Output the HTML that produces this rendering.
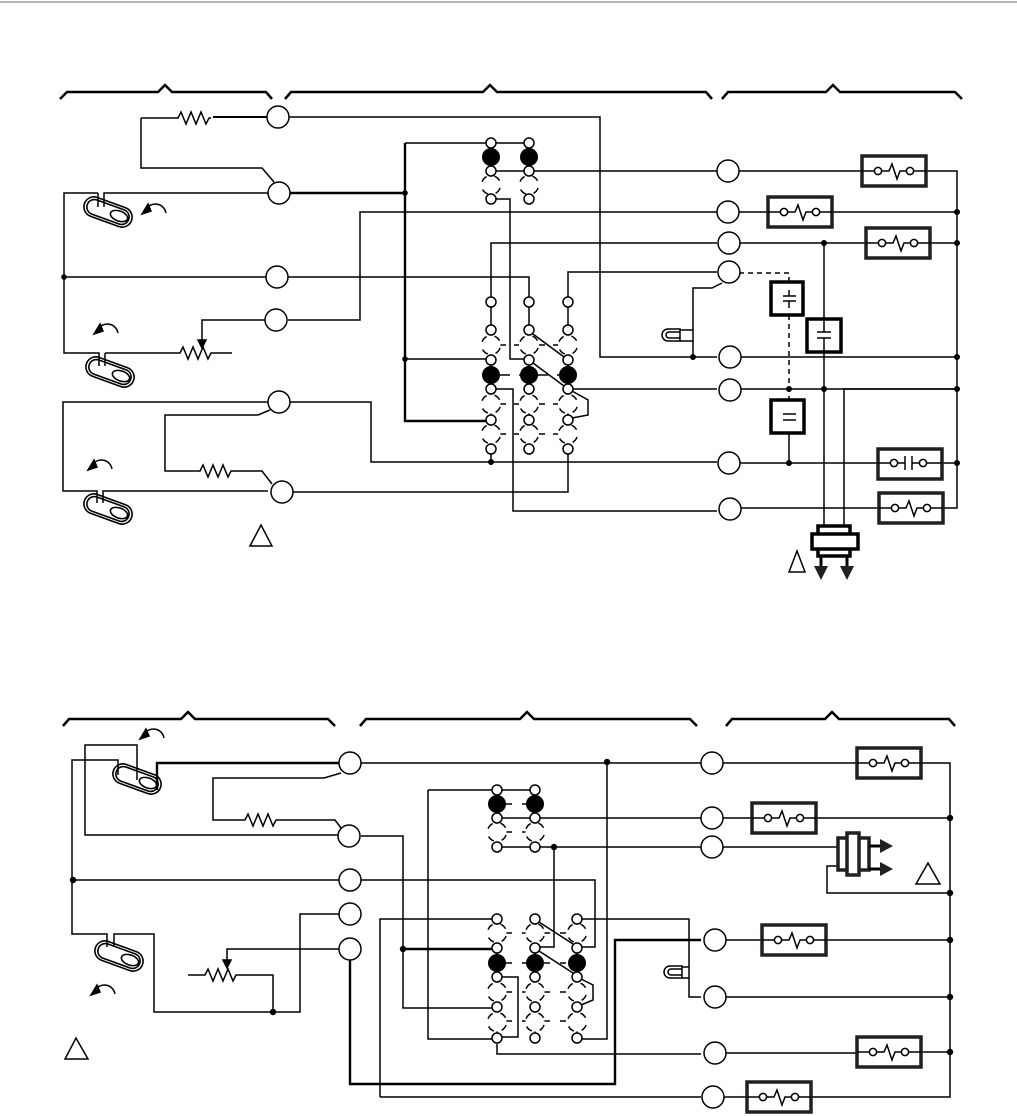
<!DOCTYPE html>
<html><head><meta charset="utf-8"><style>
html,body{margin:0;padding:0;background:#fff;}
svg{display:block;}
</style></head><body>
<svg width="1017" height="1116" viewBox="0 0 1017 1116" xmlns="http://www.w3.org/2000/svg">
<defs>
<g id="tb"><rect x="-32" y="-15" width="64" height="30" fill="#fff" stroke="#231f20" stroke-width="3.5"/><path d="M-32,0H-20M-12,0H-5L-2,-7L3,8L6,0H12M20,0H32" fill="none" stroke="#000" stroke-width="1.5"/><circle cx="-16" r="3.6" fill="#fff" stroke="#000" stroke-width="1.5"/><circle cx="16" r="3.6" fill="#fff" stroke="#000" stroke-width="1.5"/></g>
<g id="pill" fill="none" stroke="#000" stroke-width="1.6"><rect x="-25" y="-10" width="50" height="20" rx="10" transform="rotate(20)"/><rect x="-22" y="-7.5" width="44" height="15" rx="7.5" transform="rotate(20)"/><ellipse cx="11" cy="4" rx="9" ry="5" transform="rotate(20 11 4)"/></g>
<g id="arr" fill="none" stroke="#000" stroke-width="1.5"><path d="M14,6 C12,-4 0,-6 -6,2"/><path d="M-10,7 L-4,-3 L-1,4Z" fill="#000"/></g>
<g id="dc"><circle r="9.5" fill="#fff" stroke="#000" stroke-width="1.5" stroke-dasharray="7 8" stroke-dashoffset="-3"/></g>
</defs>
<line x1="0" y1="2" x2="1017" y2="2" stroke="#888" stroke-width="1.2"/>
<g fill="none" stroke="#000" stroke-width="2.5">
<path d="M60,99 L67,92 H158 L165,85 L172,92 H266 L272,99"/>
<path d="M285,99 L291,92 H483 L490,85 L497,92 H706 L712,99"/>
<path d="M722,99 L728,92 H826 L833,85 L840,92 H955 L962,99"/>
<path d="M63,726 L69,719 H181 L188,712 L195,719 H328 L335,726"/>
<path d="M360,726 L366,719 H520 L527,712 L534,719 H690 L697,726"/>
<path d="M726,726 L732,719 H825 L832,712 L839,719 H949 L955,726"/>
</g>
<!-- TOP wires -->
<g fill="none" stroke="#000" stroke-width="1.5">
<path d="M141,118 V168 H262 L274,182"/>
<path d="M141,118 H178 l3,-6 l5,12 l5,-12 l5,12 l5,-12 l5,12 l3,-6 h2"/>
<path d="M213,117 H267" stroke-width="2"/>
<path d="M289,117 H600 V357 H717"/>
<path d="M268,193 H104 V207 M98,193 V207 M98,193 H64 V353 H99 V366 M105,353 V366 M105,353 H180 l3,-6 l5,12 l5,-12 l5,12 l5,-12 l5,12 l3,-6 H232"/>
<path d="M64,277 H266 M288,277 H529 V297"/>
<path d="M266,320 H202 V342" /><path d="M198,340 L202,348 L206,340Z" fill="#000"/>
<path d="M288,320 H360 V212 H717"/>
<path d="M268,402 H63 V491 H97 V503 M103,503 V491 H268"/>
<path d="M270,410 L258,415 H165 V471 H200 l3,-6 l5,12 l5,-12 l5,12 l5,-12 l5,12 l3,-6 H262 L272,484"/>
<path d="M290,402 H371 V462 H717"/>
<path d="M290,492 H568 V454"/>
<path d="M405,143 H486 M496,143 H524"/>
<path d="M496,171 H524 M534,171 H717"/>
<path d="M496,199 H510 V359 H524"/>
<path d="M288,193 H405 M405,143 V421 H486" stroke-width="2.4"/>
<path d="M405,359 H486"/>
<path d="M491,297 V243 H717 M568,297 V272 H717"/>
<path d="M491,454 V462"/>
<path d="M573,389 H717 M496,389 H513 V511 H717"/>
<path d="M533,334 L564,357 M533,363 L564,386 M572,391 L588,400 V415 L572,418"/>
<!-- right top -->
<path d="M739,171 H862 M926,171 H957 V508 H943 M739,212 H768 M832,212 H957 M739,243 H866 M930,243 H957 M739,357 H957 M739,389 H957 M739,463 H878 M942,463 H957 M739,508 H879"/>
<path d="M824,243 V318 M824,352 V526 M844,526 V389 H957 M789,433 V463"/>
<path d="M739,273 H789 V281 M789,315 V389 V400" stroke-dasharray="5 4"/>
<path d="M722,283 L712,288 H693 V357 M693,330 H680 M693,341 H680"/>
<path d="M680,329 H668 A6,6 0 0 0 668,341 H680 Z M680,332 H669 A3,3 0 0 0 669,338 H680"/>
</g>
<g fill="#000">
<circle cx="405" cy="193" r="2.8"/><circle cx="405" cy="359" r="2.8"/><circle cx="64" cy="277" r="2.8"/><circle cx="491" cy="462" r="3"/>
<circle cx="957" cy="212" r="3"/><circle cx="957" cy="243" r="3"/><circle cx="957" cy="357" r="3"/><circle cx="957" cy="389" r="3"/><circle cx="957" cy="463" r="3"/>
<circle cx="824" cy="243" r="3"/><circle cx="824" cy="389" r="3"/><circle cx="789" cy="389" r="3"/><circle cx="789" cy="463" r="3"/><circle cx="693" cy="357" r="3"/>
</g>
<use href="#tb" x="894" y="171"/><use href="#tb" x="800" y="212"/><use href="#tb" x="898" y="243"/><use href="#tb" x="911" y="508"/>
<g><rect x="878" y="449" width="64" height="30" fill="#fff" stroke="#231f20" stroke-width="3.5"/><path d="M878,463H890M898,463H905M905,456V470M912,456V470M912,463H919M927,463H942" stroke="#000" stroke-width="1.5" fill="none"/><circle cx="894" cy="463" r="3.6" fill="#fff" stroke="#000" stroke-width="1.5"/><circle cx="923" cy="463" r="3.6" fill="#fff" stroke="#000" stroke-width="1.5"/></g>
<g stroke="#000" fill="#fff">
<rect x="771" y="282" width="32" height="33" stroke-width="3.5"/><rect x="807" y="319" width="34" height="33" stroke-width="3.5"/><rect x="771" y="400" width="33" height="33" stroke-width="3.5"/>
<path d="M783,296H796M783,301H796M789,290V296M789,301V308M817,332H831M817,338H831M783,414H796M783,420H796" stroke-width="1.5" fill="none"/>
<path d="M824,319V332M824,338V352" stroke-width="1.5"/>
<rect x="818" y="526" width="32" height="30" stroke-width="3.5"/><rect x="812" y="534" width="46" height="15" stroke-width="3.5"/>
<path d="M821,556V566M847,556V566" stroke-width="3"/>
</g>
<path d="M814,566H828L821,580Z M840,566H854L847,580Z" fill="#231f20"/>
<path d="M789,572 L797,551 L805,572Z M250,546 L261,525 L272,546Z M65,1059 L76,1038 L88,1059Z M916,884 L928,863 L940,884Z" fill="none" stroke="#000" stroke-width="1.5"/>
<use href="#pill" x="108" y="212"/><use href="#pill" x="110" y="372"/><use href="#pill" x="108" y="509"/>
<use href="#arr" x="152" y="207"/><use href="#arr" x="104" y="327"/><use href="#arr" x="98" y="463"/>
<!-- top terminals -->
<g fill="#fff" stroke="#000" stroke-width="1.5">
<circle cx="278" cy="117" r="11"/><circle cx="279" cy="193" r="11"/><circle cx="277" cy="277" r="11"/><circle cx="276" cy="320" r="11"/><circle cx="279" cy="402" r="11"/><circle cx="282" cy="492" r="11"/>
<circle cx="728" cy="171" r="11"/><circle cx="728" cy="212" r="11"/><circle cx="729" cy="243" r="11"/><circle cx="729" cy="272" r="11"/><circle cx="730" cy="357" r="11"/><circle cx="730" cy="390" r="11"/><circle cx="729" cy="463" r="11"/><circle cx="730" cy="509" r="11"/>
</g>
<!-- top relay blocks -->
<g stroke="#000" stroke-width="1.5" fill="none">
<path d="M491,143V199M529,143V199M491,302V454M529,302V454M568,302V454"/>
<path d="M500,345H506M514,345H519M539,345H545M553,345H558M500,375H510M519,375H522M538,375H548M557,375H560M500,404H506M514,404H519M539,404H545M553,404H558M500,434H506M514,434H519M539,434H545M553,434H558"/>
</g>
<g fill="#fff" stroke="#000" stroke-width="1.5">
<use href="#dc" x="491" y="185"/><use href="#dc" x="529" y="185"/>
<use href="#dc" x="491" y="345"/><use href="#dc" x="529" y="345"/><use href="#dc" x="568" y="345"/>
<use href="#dc" x="491" y="404"/><use href="#dc" x="529" y="404"/><use href="#dc" x="568" y="404"/>
<use href="#dc" x="491" y="434"/><use href="#dc" x="529" y="434"/><use href="#dc" x="568" y="434"/>
<circle cx="491" cy="143" r="5"/><circle cx="529" cy="143" r="5"/><circle cx="491" cy="171" r="5"/><circle cx="529" cy="171" r="5"/><circle cx="491" cy="199" r="5"/><circle cx="529" cy="199" r="5"/>
<circle cx="491" cy="302" r="5"/><circle cx="529" cy="302" r="5"/><circle cx="568" cy="302" r="5"/>
<circle cx="491" cy="330" r="5"/><circle cx="529" cy="330" r="5"/><circle cx="568" cy="330" r="5"/>
<circle cx="491" cy="360" r="5"/><circle cx="529" cy="360" r="5"/><circle cx="568" cy="360" r="5"/>
<circle cx="491" cy="389" r="5"/><circle cx="529" cy="389" r="5"/><circle cx="568" cy="389" r="5"/>
<circle cx="491" cy="420" r="5"/><circle cx="529" cy="420" r="5"/><circle cx="568" cy="420" r="5"/>
<circle cx="491" cy="449" r="5"/><circle cx="529" cy="449" r="5"/><circle cx="568" cy="449" r="5"/>
</g>
<g fill="#000"><circle cx="491" cy="157" r="9"/><circle cx="529" cy="157" r="9"/><circle cx="491" cy="375" r="9"/><circle cx="529" cy="375" r="9"/><circle cx="568" cy="375" r="9"/></g>

<!-- BOTTOM -->
<g fill="none" stroke="#000" stroke-width="1.5">
<path d="M339,763 H157 V790" stroke-width="2.4"/>
<path d="M361,763 H712"/>
<path d="M137,780 V745 H85 V835 H339"/>
<path d="M118,775 V760 H72 V934 H107 V947 M114,947 V934 H154 V1012 H300 V914 H339"/>
<path d="M73,880 H339"/>
<path d="M341,773 L324,778 H213 V820 H245 l3,-6 l5,12 l5,-12 l5,12 l5,-12 l5,12 l3,-6 H335 L341,828"/>
<path d="M188,975 H205 l3,-6 l5,12 l5,-12 l5,12 l5,-12 l5,12 l3,-6 H273 V1012"/>
<path d="M339,949 H227 V962"/><path d="M223,960 L227,968 L231,960Z" fill="#000"/>
<path d="M361,836 H403 V1008 H493"/>
<path d="M403,949 H493" stroke-width="2.4"/>
<path d="M361,880 H595 V947 H582"/>
<path d="M350,960 V1084 H615 V940 H701" stroke-width="2.4"/>
<path d="M380,1097 V919 H493 M380,1097 H701"/>
<path d="M428,790 H493 M428,790 V1039 H493 M502,790 H531 M502,818 H531 M540,818 H701 M502,847 H531 M540,847 H701 M554,847 V947 H540"/>
<path d="M607,763 V1039 H582"/>
<path d="M582,919 H689 V997 H701 M689,967 H682 M689,978 H682"/>
<path d="M682,966 H670 A6,6 0 0 0 670,978 H682Z M682,969 H671 A3,3 0 0 0 671,975 H682"/>
<path d="M502,977 H518 V1037 H502 M497,1044 V1054 H701"/>
<path d="M539,922 L573,944 M539,951 L573,973 M581,979 L593,985 V1000 L581,1005"/>
<path d="M723,763 H857 M921,763 H950 V1097 H811 M723,818 H752 M815,818 H950 M723,847 H838 M845,866 H827 V893 H950 M723,940 H762 M826,940 H950 M723,997 H950 M723,1053 H857 M921,1052 H950 M723,1097 H747"/>
</g>
<g fill="#000">
<circle cx="607" cy="762" r="3.2"/><circle cx="554" cy="847" r="3.2"/><circle cx="73" cy="880" r="3.2"/><circle cx="403" cy="949" r="3.2"/><circle cx="273" cy="1012" r="3.2"/>
<circle cx="950" cy="818" r="3.2"/><circle cx="950" cy="893" r="3.2"/><circle cx="950" cy="940" r="3.2"/><circle cx="950" cy="997" r="3.2"/><circle cx="950" cy="1052" r="3.2"/>
</g>
<use href="#tb" x="889" y="763"/><use href="#tb" x="784" y="818"/><use href="#tb" x="794" y="940"/><use href="#tb" x="889" y="1052"/><use href="#tb" x="779" y="1097"/>
<g fill="#fff" stroke="#231f20" stroke-width="3.5">
<rect x="838" y="838" width="31" height="32"/><rect x="847" y="833" width="12" height="42"/>
</g>
<path d="M869,846H880M869,869H880" stroke="#000" stroke-width="3"/>
<path d="M880,839L893,846L880,853Z M880,862L893,869L880,876Z" fill="#231f20"/>
<use href="#pill" x="137" y="779"/><use href="#pill" x="119" y="956"/>
<use href="#arr" x="150" y="732"/><use href="#arr" x="101" y="988"/>
<g fill="#fff" stroke="#000" stroke-width="1.5">
<circle cx="350" cy="763" r="11"/><circle cx="349" cy="836" r="11"/><circle cx="350" cy="880" r="11"/><circle cx="350" cy="914" r="11"/><circle cx="350" cy="949" r="11"/>
<circle cx="712" cy="763" r="11"/><circle cx="712" cy="818" r="11"/><circle cx="712" cy="847" r="11"/><circle cx="715" cy="940" r="11"/><circle cx="715" cy="997" r="11"/><circle cx="715" cy="1053" r="11"/><circle cx="713" cy="1097" r="11"/>
</g>
<g stroke="#000" stroke-width="1.5" fill="none">
<path d="M497,790V847M535,790V847M497,919V1039M535,919V1039M577,919V1039"/>
<path d="M506,804H512M522,804H526M506,832H512M522,832H526M506,933H512M522,933H526M544,933H550M560,933H566M506,963H512M522,963H526M544,963H550M560,963H566M506,992H512M522,992H526M544,992H550M560,992H566M506,1021H512M522,1021H526M544,1021H550M560,1021H566"/>
</g>
<g fill="#fff" stroke="#000" stroke-width="1.5">
<use href="#dc" x="497" y="832"/><use href="#dc" x="535" y="832"/>
<use href="#dc" x="497" y="933"/><use href="#dc" x="535" y="933"/><use href="#dc" x="577" y="933"/>
<use href="#dc" x="497" y="992"/><use href="#dc" x="535" y="992"/><use href="#dc" x="577" y="992"/>
<use href="#dc" x="497" y="1022"/><use href="#dc" x="535" y="1022"/><use href="#dc" x="577" y="1022"/>
<circle cx="497" cy="790" r="5"/><circle cx="535" cy="790" r="5"/><circle cx="497" cy="818" r="5"/><circle cx="535" cy="818" r="5"/><circle cx="497" cy="847" r="5"/><circle cx="535" cy="847" r="5"/>
<circle cx="497" cy="919" r="5"/><circle cx="535" cy="919" r="5"/><circle cx="577" cy="919" r="5"/>
<circle cx="497" cy="948" r="5"/><circle cx="535" cy="948" r="5"/><circle cx="577" cy="948" r="5"/>
<circle cx="497" cy="977" r="5"/><circle cx="535" cy="977" r="5"/><circle cx="577" cy="977" r="5"/>
<circle cx="497" cy="1007" r="5"/><circle cx="535" cy="1007" r="5"/><circle cx="577" cy="1007" r="5"/>
<circle cx="497" cy="1038" r="5"/><circle cx="535" cy="1038" r="5"/><circle cx="577" cy="1038" r="5"/>
</g>
<g fill="#000"><circle cx="497" cy="804" r="9"/><circle cx="535" cy="804" r="9"/><circle cx="497" cy="963" r="9"/><circle cx="535" cy="963" r="9"/><circle cx="577" cy="963" r="9"/></g>
</svg>
</body></html>
